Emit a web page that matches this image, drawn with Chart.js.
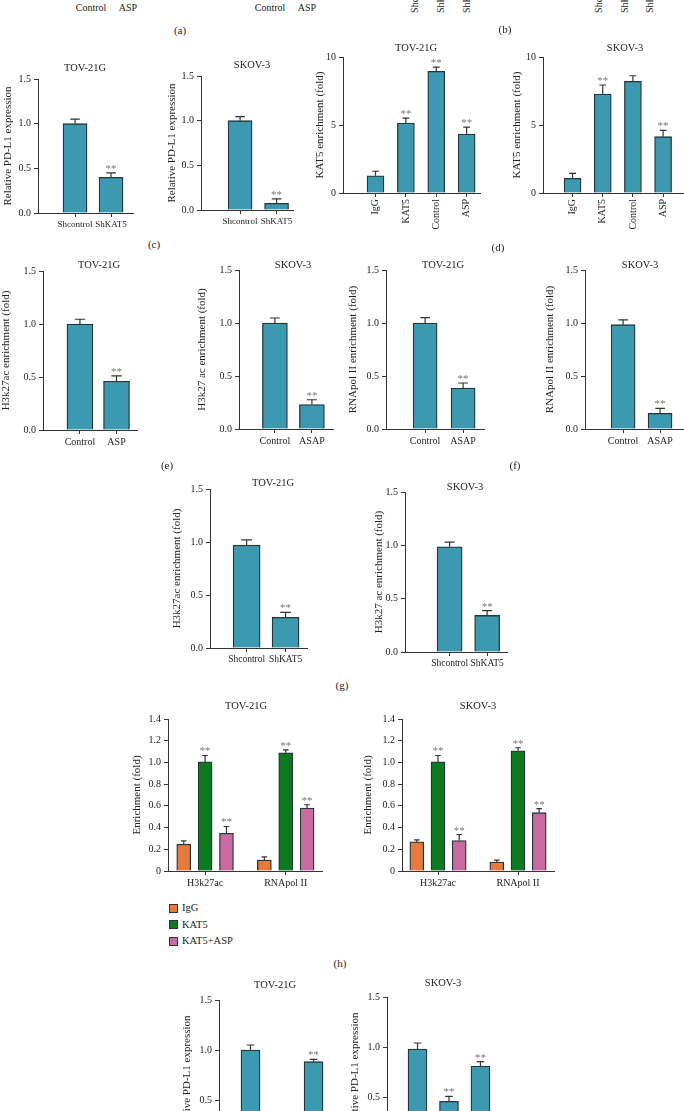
<!DOCTYPE html>
<html>
<head>
<meta charset="utf-8">
<script src="https://cdn.jsdelivr.net/npm/chart.js@4.4.1/dist/chart.umd.min.js"></script>
<style>
  html, body { margin: 0; padding: 0; background: #fff; }
  body { position: relative; width: 684px; height: 1111px; overflow: hidden;
         font-family: 'Liberation Serif', 'Times New Roman', serif; color: #222; }
  canvas { position: absolute; }
  .txt { position: absolute; font-size: 10px; line-height: 1; white-space: nowrap; transform: translate(-50%, -50%); }
  .rot { position: absolute; font-size: 10px; line-height: 1; white-space: nowrap;
         writing-mode: vertical-rl; transform: rotate(180deg); }
  .key { position: absolute; width: 7px; height: 7px; border: 1px solid #333; }
</style>
</head>
<body>
<script>
// (c) PD-L1 expression after KAT5 knockdown
const KD_LABELS = ['Shcontrol', 'ShKAT5'];
const C_TOV = [1.00, 0.40];
const C_TOV_ERR = [0.05, 0.05];
const C_SKOV = [1.00, 0.075];
const C_SKOV_ERR = [0.045, 0.05];

// (d) KAT5 enrichment on the PD-L1 promoter
const D_LABELS = ['IgG', 'KAT5', 'Control', 'ASP'];
const D_TOV = [1.27, 5.15, 8.95, 4.34];
const D_TOV_ERR = [0.33, 0.35, 0.31, 0.51];
const D_TOV_STARS = [0, 1, 1, 1];
const D_SKOV = [1.08, 7.28, 8.21, 4.14];
const D_SKOV_ERR = [0.37, 0.66, 0.41, 0.46];
const D_SKOV_STARS = [0, 1, 0, 1];

// (e) H3k27ac after ASP
const E_TOV_LABELS = ['Control', 'ASP'];
const E_SKOV_LABELS = ['Control', 'ASAP'];
const E_TOV = [1.00, 0.46];
const E_TOV_ERR = [0.045, 0.05];
const E_SKOV = [1.00, 0.23];
const E_SKOV_ERR = [0.047, 0.046];

// (f) RNApol II after ASP
const F_LABELS = ['Control', 'ASAP'];
const F_TOV = [1.00, 0.387];
const F_TOV_ERR = [0.05, 0.047];
const F_SKOV = [0.984, 0.148];
const F_SKOV_ERR = [0.046, 0.047];

// (g) H3k27ac after KAT5 knockdown
const G_TOV = [0.97, 0.29];
const G_TOV_ERR = [0.05, 0.047];
const G_SKOV = [0.987, 0.343];
const G_SKOV_ERR = [0.043, 0.044];

// (h) enrichment, grouped
const H_GROUPS = ['H3k27ac', 'RNApol II'];
const H_SERIES = ['IgG', 'KAT5', 'KAT5+ASP'];
const H_COLORS = ['#e67a3c', '#0d7a22', '#c96ba1'];
const H_TOV_IGG = [0.247, 0.10];
const H_TOV_IGG_ERR = [0.03, 0.03];
const H_TOV_KAT5 = [1.005, 1.088];
const H_TOV_KAT5_ERR = [0.059, 0.028];
const H_TOV_ASP = [0.348, 0.58];
const H_TOV_ASP_ERR = [0.062, 0.03];
const H_SKOV_IGG = [0.268, 0.083];
const H_SKOV_IGG_ERR = [0.019, 0.017];
const H_SKOV_KAT5 = [1.005, 1.107];
const H_SKOV_KAT5_ERR = [0.059, 0.028];
const H_SKOV_ASP = [0.28, 0.537];
const H_SKOV_ASP_ERR = [0.056, 0.037];

// (i) PD-L1 expression (bottom, cut off)
const I_LABELS = ['Control', 'ASP', 'ASP+KAT5'];
const I_TOV = [1.00, 0.25, 0.883];
const I_TOV_ERR = [0.05, 0.05, 0.024];
const I_SKOV = [0.98, 0.457, 0.81];
const I_SKOV_ERR = [0.06, 0.05, 0.044];
const I_STARS = [0, 1, 1];

const TWO_STARS = [0, 1];

const FONT = "'Liberation Serif', 'Times New Roman', serif";
const INK = '#222';
const AXIS = '#333';
const TEAL = '#3d99b0';
const EDGE = '#25363b';

/** errorBars: draws upward SEM whiskers and ** marks */
const errorBars = {
    id: 'errorBars',
    afterDatasetsDraw(chart) {
        const ctx = chart.ctx;
        const yScale = chart.scales.y;
        ctx.save();
        chart.data.datasets.forEach((ds, d) => {
            chart.getDatasetMeta(d).data.forEach((bar, i) => {
                const p = bar.getProps(['x', 'y', 'width']);
                const top = yScale.getPixelForValue(ds.data[i].y + ds.errors[i]);
                const cap = p.width * 0.2;
                ctx.strokeStyle = AXIS;
                ctx.lineWidth = 1.2;
                ctx.beginPath();
                ctx.moveTo(p.x, p.y);
                ctx.lineTo(p.x, top);
                ctx.moveTo(p.x - cap, top);
                ctx.lineTo(p.x + cap, top);
                ctx.stroke();
                if (ds.stars[i]) {
                    ctx.fillStyle = '#777';
                    ctx.font = `11px ${FONT}`;
                    ctx.textAlign = 'center';
                    ctx.textBaseline = 'alphabetic';
                    ctx.fillText('**', p.x, top - 1);
                }
            });
        });
        ctx.restore();
    }
};

/** panelTitle: cell line name above each plot */
const panelTitle = {
    id: 'panelTitle',
    afterDraw(chart, args, opts) {
        const ctx = chart.ctx;
        ctx.save();
        ctx.font = `10.5px ${FONT}`;
        ctx.fillStyle = INK;
        ctx.textAlign = 'center';
        ctx.textBaseline = 'middle';
        ctx.fillText(opts.text, opts.x, opts.y);
        ctx.restore();
    }
};

function fmt1(v) { return v.toFixed(1); }
function fmt0(v) { return String(Math.round(v)); }
function fmtH(v) { return v === 0 ? '0' : v.toFixed(1); }

/** makeChart: places one bar plot on the page */
function makeChart(p) {
    const L = p.layout;
    const left = L.labelX - 6;
    const top = L.axisTop - 28;
    const bottomH = p.rot ? 50 : 30;
    const width = L.axisEnd + 6 - left;
    const height = L.axisZero + bottomH - top;

    const canvas = document.createElement('canvas');
    canvas.width = width;
    canvas.height = height;
    canvas.style.left = left + 'px';
    canvas.style.top = top + 'px';
    canvas.style.width = width + 'px';
    canvas.style.height = height + 'px';
    document.body.appendChild(canvas);

    const shifts = p.shifts || [0];
    const gridOpts = { drawOnChartArea: false, tickLength: 4, color: AXIS, lineWidth: 1, offset: false };

    new Chart(canvas, {
        type: 'bar',
        data: {
            datasets: p.series.map((s, d) => ({
                label: s.name || '',
                data: s.values.map((v, i) => ({ x: i + shifts[d], y: v })),
                errors: s.errs,
                stars: s.stars,
                backgroundColor: s.color || TEAL,
                borderColor: EDGE,
                borderWidth: 1.3,
                barThickness: p.barW,
                grouped: false
            }))
        },
        options: {
            responsive: false,
            animation: false,
            devicePixelRatio: 1,
            layout: { padding: { left: 0, top: L.axisTop - top, right: width - (L.axisEnd - left), bottom: 0 } },
            plugins: {
                legend: { display: false },
                tooltip: { enabled: false },
                panelTitle: { text: p.title, x: L.titleX - left, y: L.titleY - top }
            },
            scales: {
                x: {
                    type: 'linear',
                    min: p.xmin,
                    max: p.xmax,
                    offset: false,
                    afterBuildTicks: s => { s.ticks = p.labels.map((_, i) => ({ value: i })); },
                    afterFit: s => {
                        s.height = bottomH;
                        s.paddingLeft = 0; s.paddingRight = 0; s.paddingTop = 0; s.paddingBottom = 0;
                    },
                    ticks: {
                        callback: (v, i) => p.labels[i],
                        autoSkip: false,
                        maxRotation: p.rot ? 90 : 0,
                        minRotation: p.rot ? 90 : 0,
                        padding: 2,
                        color: INK,
                        font: { family: FONT, size: p.xFont || 10 }
                    },
                    grid: gridOpts,
                    border: { color: AXIS, width: 1 }
                },
                y: {
                    min: 0,
                    max: p.ymax,
                    afterFit: s => {
                        s.width = L.axisX - left;
                        s.paddingLeft = 0; s.paddingRight = 0; s.paddingTop = 0; s.paddingBottom = 0;
                    },
                    ticks: {
                        stepSize: p.step,
                        callback: v => p.fmt(v),
                        padding: 3,
                        color: INK,
                        font: { family: FONT, size: 10 }
                    },
                    title: { display: true, text: p.yTitle, padding: 0, color: INK, font: { family: FONT, size: 11 } },
                    grid: gridOpts,
                    border: { color: AXIS, width: 1 }
                }
            }
        },
        plugins: [errorBars, panelTitle]
    });
}

/** addText: free text label centred on (x, y) */
function addText(text, x, y, size) {
    const el = document.createElement('div');
    el.className = 'txt';
    el.textContent = text;
    el.style.left = x + 'px';
    el.style.top = y + 'px';
    if (size) el.style.fontSize = size + 'px';
    document.body.appendChild(el);
}

/** addRotated: bottom-to-top label whose start sits at y */
function addRotated(text, x, y) {
    const el = document.createElement('div');
    el.className = 'rot';
    el.textContent = text;
    el.style.left = (x - 5) + 'px';
    el.style.bottom = (1111 - y) + 'px';
    document.body.appendChild(el);
}

// remains of panels (a) and (b) above the crop
addText('Control', 91, 8);
addText('ASP', 128, 8);
addText('Control', 270, 8);
addText('ASP', 307, 8);
['Shcontrol', 'ShKAT5#1', 'ShKAT5#2'].forEach((t, k) => {
    addRotated(t, 415 + 26 * k, 13);
    addRotated(t, 599 + 25.5 * k, 13);
});

const two = (vals, errs, stars) => [{ values: vals, errs: errs, stars: stars || TWO_STARS }];
const pct = { ymax: 1.5, step: 0.5, fmt: fmt1 };

// (c)
makeChart({ ...pct, title: 'TOV-21G', yTitle: 'Relative PD-L1 expression', labels: KD_LABELS, xFont: 9,
    series: two(C_TOV, C_TOV_ERR), xmin: -1.03, xmax: 1.61, barW: 24,
    layout: { labelX: 8, axisX: 38, axisTop: 79, axisZero: 213, axisEnd: 133, titleX: 85, titleY: 68 } });
makeChart({ ...pct, title: 'SKOV-3', yTitle: 'Relative PD-L1 expression', labels: KD_LABELS, xFont: 9,
    series: two(C_SKOV, C_SKOV_ERR), xmin: -1.07, xmax: 1.45, barW: 24,
    layout: { labelX: 172, axisX: 201, axisTop: 76, axisZero: 210, axisEnd: 293, titleX: 252, titleY: 65 } });

// (d)
makeChart({ ymax: 10, step: 5, fmt: fmt0, rot: true, title: 'TOV-21G', yTitle: 'KAT5 enrichment (fold)', labels: D_LABELS,
    series: [{ values: D_TOV, errs: D_TOV_ERR, stars: D_TOV_STARS }], xmin: -1.07, xmax: 3.44, barW: 17,
    layout: { labelX: 320, axisX: 343, axisTop: 57, axisZero: 193, axisEnd: 480, titleX: 416, titleY: 48 } });
makeChart({ ymax: 10, step: 5, fmt: fmt0, rot: true, title: 'SKOV-3', yTitle: 'KAT5 enrichment (fold)', labels: D_LABELS,
    series: [{ values: D_SKOV, errs: D_SKOV_ERR, stars: D_SKOV_STARS }], xmin: -0.98, xmax: 3.66, barW: 17,
    layout: { labelX: 517, axisX: 543, axisTop: 57, axisZero: 193, axisEnd: 683, titleX: 625, titleY: 48 } });

// (e)
makeChart({ ...pct, title: 'TOV-21G', yTitle: 'H3k27ac enrichment (fold)', labels: E_TOV_LABELS,
    series: two(E_TOV, E_TOV_ERR), xmin: -1.01, xmax: 1.56, barW: 26,
    layout: { labelX: 6, axisX: 43, axisTop: 271, axisZero: 430, axisEnd: 137, titleX: 99, titleY: 265 } });
makeChart({ ...pct, title: 'SKOV-3', yTitle: 'H3k27 ac enrichment (fold)', labels: E_SKOV_LABELS,
    series: two(E_SKOV, E_SKOV_ERR), xmin: -0.97, xmax: 1.57, barW: 25,
    layout: { labelX: 202, axisX: 239, axisTop: 270, axisZero: 429, axisEnd: 333, titleX: 293, titleY: 265 } });

// (f)
makeChart({ ...pct, title: 'TOV-21G', yTitle: 'RNApol II enrichment (fold)', labels: F_LABELS,
    series: two(F_TOV, F_TOV_ERR), xmin: -1.03, xmax: 1.55, barW: 24,
    layout: { labelX: 353, axisX: 386, axisTop: 270, axisZero: 429, axisEnd: 484, titleX: 443, titleY: 265 } });
makeChart({ ...pct, title: 'SKOV-3', yTitle: 'RNApol II enrichment (fold)', labels: F_LABELS,
    series: two(F_SKOV, F_SKOV_ERR), xmin: -1.03, xmax: 1.62, barW: 24,
    layout: { labelX: 550, axisX: 585, axisTop: 270, axisZero: 429, axisEnd: 683, titleX: 640, titleY: 265 } });

// (g)
makeChart({ ...pct, title: 'TOV-21G', yTitle: 'H3k27ac enrichment (fold)', labels: KD_LABELS, xFont: 9.5,
    series: two(G_TOV, G_TOV_ERR), xmin: -0.94, xmax: 1.55, barW: 27,
    layout: { labelX: 177, axisX: 210, axisTop: 489, axisZero: 648, axisEnd: 307, titleX: 273, titleY: 483 } });
makeChart({ ...pct, title: 'SKOV-3', yTitle: 'H3k27 ac enrichment (fold)', labels: KD_LABELS, xFont: 9.5,
    series: two(G_SKOV, G_SKOV_ERR), xmin: -1.19, xmax: 1.53, barW: 25,
    layout: { labelX: 379, axisX: 405, axisTop: 492, axisZero: 652, axisEnd: 507, titleX: 465, titleY: 487 } });

// (h)
const H_STARS = [1, 1];
const hSeries = (vals, errs) => H_SERIES.map((name, k) => ({
    name: name, values: vals[k], errs: errs[k], stars: k === 0 ? [0, 0] : H_STARS, color: H_COLORS[k]
}));
const H_SHIFT = [-0.265, 0, 0.265];
makeChart({ ymax: 1.4, step: 0.2, fmt: fmtH, title: 'TOV-21G', yTitle: 'Enrichment (fold)', labels: H_GROUPS,
    series: hSeries([H_TOV_IGG, H_TOV_KAT5, H_TOV_ASP], [H_TOV_IGG_ERR, H_TOV_KAT5_ERR, H_TOV_ASP_ERR]),
    shifts: H_SHIFT, xmin: -0.46, xmax: 1.45, barW: 14,
    layout: { labelX: 137, axisX: 168, axisTop: 719, axisZero: 871, axisEnd: 322, titleX: 246, titleY: 706 } });
makeChart({ ymax: 1.4, step: 0.2, fmt: fmtH, title: 'SKOV-3', yTitle: 'Enrichment (fold)', labels: H_GROUPS,
    series: hSeries([H_SKOV_IGG, H_SKOV_KAT5, H_SKOV_ASP], [H_SKOV_IGG_ERR, H_SKOV_KAT5_ERR, H_SKOV_ASP_ERR]),
    shifts: H_SHIFT, xmin: -0.45, xmax: 1.45, barW: 14,
    layout: { labelX: 368, axisX: 402, axisTop: 719, axisZero: 871, axisEnd: 554, titleX: 478, titleY: 706 } });

// (h) legend
H_SERIES.forEach((name, k) => {
    const y = 908 + 16.5 * k;
    const box = document.createElement('div');
    box.className = 'key';
    box.style.left = '169px';
    box.style.top = (y - 4.5) + 'px';
    box.style.background = H_COLORS[k];
    document.body.appendChild(box);
    const t = document.createElement('div');
    t.className = 'txt';
    t.style.transform = 'translate(0, -50%)';
    t.style.left = '182px';
    t.style.top = y + 'px';
    t.style.fontSize = '10.5px';
    t.textContent = name;
    document.body.appendChild(t);
});

// (i)
makeChart({ ...pct, title: 'TOV-21G', yTitle: 'Relative PD-L1 expression', labels: I_LABELS,
    series: [{ values: I_TOV, errs: I_TOV_ERR, stars: I_STARS }], xmin: -1.0, xmax: 2.68, barW: 19,
    layout: { labelX: 187, axisX: 219, axisTop: 1000, axisZero: 1150, axisEnd: 335, titleX: 275, titleY: 985 } });
makeChart({ ...pct, title: 'SKOV-3', yTitle: 'Relative PD-L1 expression', labels: I_LABELS,
    series: [{ values: I_SKOV, errs: I_SKOV_ERR, stars: I_STARS }], xmin: -0.97, xmax: 2.78, barW: 19,
    layout: { labelX: 355, axisX: 387, axisTop: 997, axisZero: 1147, axisEnd: 505, titleX: 443, titleY: 983 } });

// panel letters
[['(a)', 180, 30], ['(b)', 505, 29], ['(c)', 154, 244], ['(d)', 498, 247], ['(e)', 167, 465],
 ['(f)', 515, 465], ['(g)', 342, 685], ['(h)', 340, 963]].forEach(([t, x, y]) => addText(t, x, y, 11));
</script>
</body>
</html>
